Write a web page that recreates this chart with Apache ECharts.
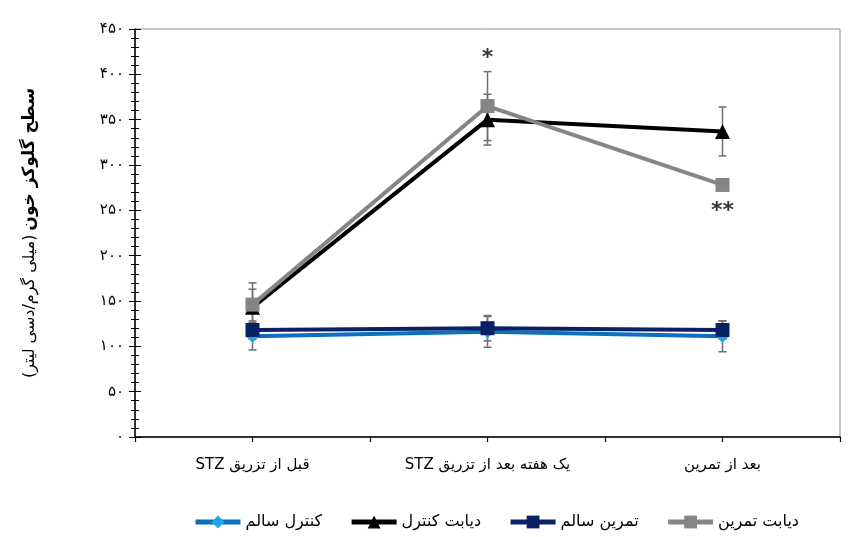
<!DOCTYPE html>
<html>
<head>
<meta charset="utf-8">
<script src="https://cdn.jsdelivr.net/npm/echarts@6/dist/echarts.min.js"></script>
<style>
html, body { margin: 0; padding: 0; background: #fff; }
#chart { width: 853px; height: 537px; }
</style>
</head>
<body>
<div id="chart" dir="rtl"></div>
<script>
// categories (time points)
var categories = ['قبل از تزریق STZ', 'یک هفته بعد از تزریق STZ', 'بعد از تمرین'];

// group means
var controlHealthy = [111, 116, 111];
var controlDiabetic = [143, 350, 337];
var exerciseHealthy = [118, 120, 118];
var exerciseDiabetic = [146, 365, 278];

// standard errors
var controlHealthyErr = [15, 17, 17];
var controlDiabeticErr = [20, 28, 27];
var exerciseHealthyErr = [10, 14, 10];
var exerciseDiabeticErr = [24, 38, 6];

// significance marks: [category index, y value, text]
var sigMarks = [[1, 418, '*'], [2, 249, '**']];

var FONT = '"DejaVu Sans", sans-serif';

function toPersian(n) {
    return String(n).replace(/[0-9]/g, function (d) {
        return String.fromCharCode(0x06F0 + Number(d));
    });
}

function errSeries(values, errs) {
    var data = values.map(function (v, i) {
        return [i, v - errs[i], v + errs[i]];
    });
    return {
        type: 'custom',
        z: 1,
        silent: true,
        data: data,
        renderItem: function (params, api) {
            var lo = api.coord([api.value(0), api.value(1)]);
            var hi = api.coord([api.value(0), api.value(2)]);
            var w = 4;
            var st = { stroke: '#6f6f6f', lineWidth: 1.5 };
            return {
                type: 'group',
                children: [
                    { type: 'line', shape: { x1: lo[0], y1: lo[1], x2: hi[0], y2: hi[1] }, style: st },
                    { type: 'line', shape: { x1: lo[0] - w, y1: lo[1], x2: lo[0] + w, y2: lo[1] }, style: st },
                    { type: 'line', shape: { x1: hi[0] - w, y1: hi[1], x2: hi[0] + w, y2: hi[1] }, style: st }
                ]
            };
        }
    };
}

var chart = echarts.init(document.getElementById('chart'));
chart.setOption({
    animation: false,
    textStyle: { fontFamily: FONT },
    grid: {
        left: 135, right: 13, top: 29, bottom: 100,
        show: true, borderColor: '#8c8c8c', borderWidth: 1
    },
    legend: {
        data: ['کنترل سالم', 'دیابت کنترل', 'تمرین سالم', 'دیابت تمرین'],
        left: 188,
        top: 509,
        itemWidth: 45,
        itemHeight: 16,
        itemGap: 27,
        lineStyle: { width: 5 },
        textStyle: { fontFamily: FONT, fontSize: 16, color: '#000' }
    },
    xAxis: [{
        type: 'category',
        data: categories,
        boundaryGap: true,
        axisLine: { lineStyle: { color: '#000', width: 1.5 } },
        axisTick: { show: true, length: 5, lineStyle: { color: '#000', width: 1.2 } },
        axisLabel: { fontFamily: FONT, fontSize: 15, color: '#000', margin: 21 }
    }, {
        type: 'category',
        data: categories,
        position: 'bottom',
        axisLine: { show: false },
        axisTick: { show: true, alignWithLabel: true, length: 5, lineStyle: { color: '#000', width: 1.2 } },
        axisLabel: { show: false }
    }],
    yAxis: [{
        type: 'value',
        min: 0, max: 450, interval: 50,
        name: '{n|(میلی گرم/دسی لیتر)} {b|سطح گلوکز خون}',
        nameLocation: 'middle',
        nameRotate: 90,
        nameGap: 97,
        nameTextStyle: {
            rich: {
                b: { fontFamily: FONT, fontSize: 17, fontWeight: 'bold', color: '#000' },
                n: { fontFamily: FONT, fontSize: 16, color: '#000' }
            }
        },
        splitLine: { show: false },
        axisLine: { show: true, lineStyle: { color: '#000', width: 1.5 } },
        axisTick: { show: true, length: 6, lineStyle: { color: '#000' } },
        minorTick: { show: true, splitNumber: 5, length: 4, lineStyle: { color: '#000' } },
        axisLabel: {
            fontFamily: FONT, fontSize: 15, color: '#000', margin: 11,
            formatter: function (v) { return toPersian(v); }
        }
    }, {
        type: 'value',
        min: 0, max: 450, interval: 50,
        position: 'left',
        splitLine: { show: false },
        axisLine: { show: false },
        axisTick: { show: true, inside: true, length: 6, lineStyle: { color: '#000' } },
        minorTick: { show: true, splitNumber: 5, length: 4, lineStyle: { color: '#000' } },
        axisLabel: { show: false }
    }],
    series: [
        errSeries(controlHealthy, controlHealthyErr),
        errSeries(controlDiabetic, controlDiabeticErr),
        errSeries(exerciseHealthy, exerciseHealthyErr),
        errSeries(exerciseDiabetic, exerciseDiabeticErr),
        {
            name: 'کنترل سالم', type: 'line', data: controlHealthy, z: 2,
            symbol: 'diamond', symbolSize: 13,
            lineStyle: { color: '#0a70c0', width: 4 },
            itemStyle: { color: '#1ea5e6', borderWidth: 0 }
        },
        {
            name: 'دیابت کنترل', type: 'line', data: controlDiabetic, z: 3,
            symbol: 'triangle', symbolSize: 15,
            lineStyle: { color: '#000', width: 4 },
            itemStyle: { color: '#000', borderWidth: 0 }
        },
        {
            name: 'تمرین سالم', type: 'line', data: exerciseHealthy, z: 4,
            symbol: 'rect', symbolSize: 14,
            lineStyle: { color: '#0b2165', width: 4 },
            itemStyle: { color: '#0b2165', borderWidth: 0 }
        },
        {
            name: 'دیابت تمرین', type: 'line', data: exerciseDiabetic, z: 5,
            symbol: 'rect', symbolSize: 14,
            lineStyle: { color: '#858585', width: 4 },
            itemStyle: { color: '#858585', borderWidth: 0 }
        },
        {
            type: 'scatter', z: 6, silent: true,
            symbolSize: 0,
            data: sigMarks.map(function (m) { return [m[0], m[1]]; }),
            label: {
                show: true, position: 'inside',
                fontFamily: FONT, fontSize: 22, fontWeight: 'bold', color: '#000',
                formatter: function (p) { return sigMarks[p.dataIndex][2]; }
            }
        }
    ]
});
</script>
</body>
</html>
